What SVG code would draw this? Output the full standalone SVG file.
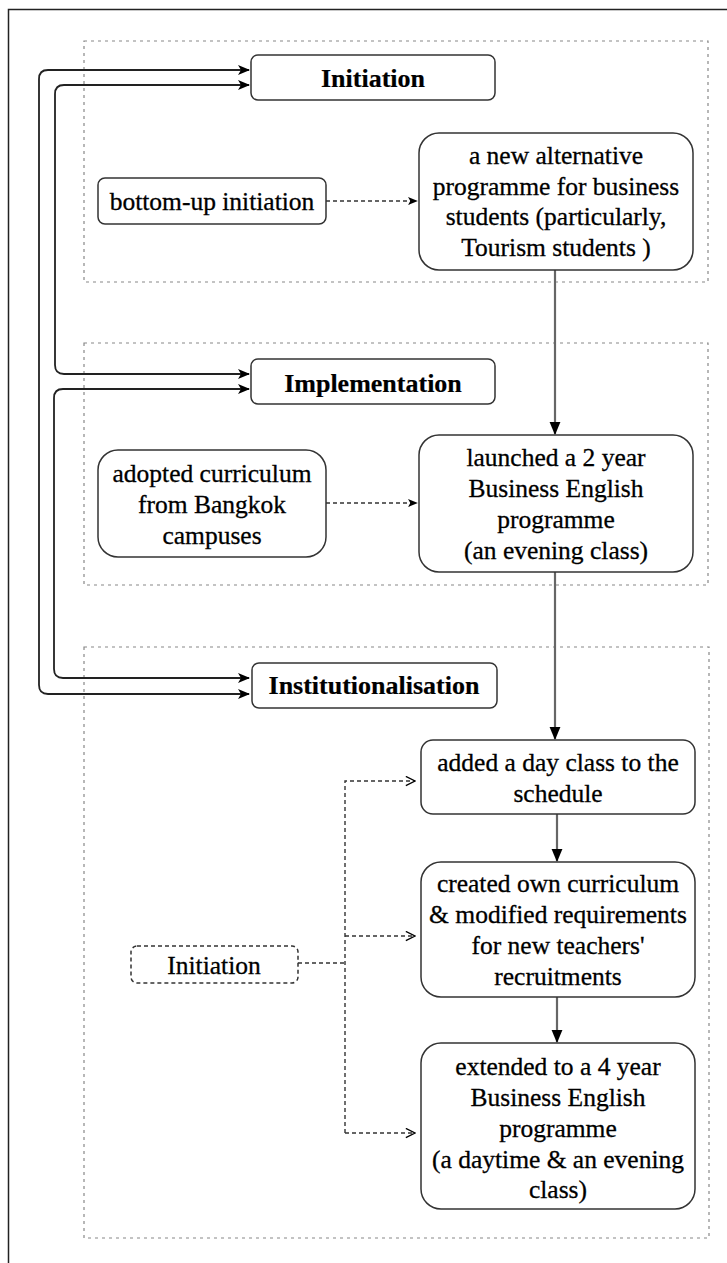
<svg xmlns="http://www.w3.org/2000/svg" width="727" height="1263" viewBox="0 0 727 1263">
  <defs>
    <marker id="arrow" viewBox="0 0 12 12" refX="11" refY="6" markerWidth="12" markerHeight="12" markerUnits="userSpaceOnUse" orient="auto-start-reverse">
      <path d="M0,1 L12,6 L0,11 L3,6 Z" fill="#000"/>
    </marker>
    <marker id="arrowSmall" viewBox="0 0 12 12" refX="11" refY="6" markerWidth="10" markerHeight="10" markerUnits="userSpaceOnUse" orient="auto">
      <path d="M0,1 L12,6 L0,11 L3,6 Z" fill="#000"/>
    </marker>
    <marker id="arrowDown" viewBox="0 0 12 12" refX="11" refY="6" markerWidth="13" markerHeight="13" markerUnits="userSpaceOnUse" orient="auto">
      <path d="M0,1 L12,6 L0,11 Z" fill="#000"/>
    </marker>
    <marker id="arrowOpen" viewBox="0 0 12 12" refX="11" refY="6" markerWidth="11" markerHeight="11" markerUnits="userSpaceOnUse" orient="auto">
      <path d="M1,1 L11,6 L1,11" fill="none" stroke="#000" stroke-width="1.5"/>
    </marker>
  </defs>
  <style>
    .frame { fill: none; stroke: #222; stroke-width: 1.5; }
    .group { fill: none; stroke: #888; stroke-width: 1.2; stroke-dasharray: 3 4; }
    .box { fill: #fff; stroke: #333; stroke-width: 1.5; }
    .dbox { fill: #fff; stroke: #333; stroke-width: 1.5; stroke-dasharray: 4 3; }
    text { font-family: "Liberation Serif", "Times New Roman", serif; font-size: 25.5px; fill: #000; stroke: #000; stroke-width: 0.3; text-anchor: middle; }
    .title { font-weight: bold; font-size: 26px; stroke-width: 0.2; }
    .loop { fill: none; stroke: #222; stroke-width: 1.8; marker-start: url(#arrow); marker-end: url(#arrow); }
    .flow { fill: none; stroke: #666; stroke-width: 2.2; marker-end: url(#arrowDown); }
    .dash { fill: none; stroke: #333; stroke-width: 1.4; stroke-dasharray: 4 3; }
  </style>

  <rect class="frame" x="8.5" y="9.5" width="740" height="1270"/>

  <!-- phase groups -->
  <g id="group-initiation"><rect class="group" x="84" y="41" width="624" height="241"/></g>
  <g id="group-implementation"><rect class="group" x="84" y="343" width="624" height="242"/></g>
  <g id="group-institutionalisation"><rect class="group" x="84" y="647" width="625" height="591"/></g>

  <!-- connectors -->
  <g id="connectors">
    <!-- feedback loops on the left, arrowed at both ends -->
    <path class="loop" d="M249,694 L48,694 Q39,694 39,685 L39,79 Q39,70 48,70 L249,70"/>
    <path class="loop" d="M249,374 L64,374 Q55,374 55,365 L55,94 Q55,85 64,85 L249,85"/>
    <path class="loop" d="M249,678 L63,678 Q54,678 54,669 L54,398 Q54,389 63,389 L249,389"/>
    <!-- main flow -->
    <path class="flow" d="M555,270 L555,434"/>
    <path class="flow" d="M555,572 L555,739"/>
    <path class="flow" d="M557,814 L557,861"/>
    <path class="flow" d="M557,997 L557,1042"/>
    <!-- influences -->
    <path class="dash" marker-end="url(#arrowSmall)" d="M326,201 L417,201"/>
    <path class="dash" marker-end="url(#arrowSmall)" d="M326,503 L417,503"/>
    <path class="dash" d="M298,963 L345,963"/>
    <path class="dash" marker-end="url(#arrowOpen)" d="M345,1133 L345,781 L415,781"/>
    <path class="dash" marker-end="url(#arrowOpen)" d="M345,936 L415,936"/>
    <path class="dash" marker-end="url(#arrowOpen)" d="M345,1133 L415,1133"/>
  </g>

  <!-- stage headings -->
  <g id="node-initiation">
    <rect class="box" x="251" y="55" width="244" height="45" rx="7"/>
    <text class="title" x="373" y="87">Initiation</text>
  </g>
  <g id="node-implementation">
    <rect class="box" x="251" y="359" width="244" height="45" rx="7"/>
    <text class="title" x="373" y="392">Implementation</text>
  </g>
  <g id="node-institutionalisation">
    <rect class="box" x="252" y="663" width="245" height="45" rx="7"/>
    <text class="title" x="374" y="694">Institutionalisation</text>
  </g>

  <!-- initiation stage -->
  <g id="node-bottom-up">
    <rect class="box" x="98" y="178" width="228" height="46" rx="7"/>
    <text x="212" y="210">bottom-up initiation</text>
  </g>
  <g id="node-new-programme">
    <rect class="box" x="419" y="133" width="274" height="137" rx="20"/>
    <text x="556" y="164">a new alternative</text>
    <text x="556" y="194.5">programme for business</text>
    <text x="556" y="225">students (particularly,</text>
    <text x="556" y="256">Tourism students )</text>
  </g>

  <!-- implementation stage -->
  <g id="node-adopted">
    <rect class="box" x="98" y="450" width="228" height="107" rx="20"/>
    <text x="212" y="482">adopted curriculum</text>
    <text x="212" y="513">from Bangkok</text>
    <text x="212" y="544">campuses</text>
  </g>
  <g id="node-launched">
    <rect class="box" x="419" y="435" width="274" height="137" rx="20"/>
    <text x="556" y="466">launched a 2 year</text>
    <text x="556" y="497">Business English</text>
    <text x="556" y="528">programme</text>
    <text x="556" y="558.5">(an evening class)</text>
  </g>

  <!-- institutionalisation stage -->
  <g id="node-day-class">
    <rect class="box" x="421" y="740" width="274" height="74" rx="12"/>
    <text x="558" y="771">added a day class to the</text>
    <text x="558" y="802">schedule</text>
  </g>
  <g id="node-own-curriculum">
    <rect class="box" x="421" y="862" width="274" height="135" rx="20"/>
    <text x="558" y="892">created own curriculum</text>
    <text x="558" y="923">&amp; modified requirements</text>
    <text x="558" y="954">for new teachers'</text>
    <text x="558" y="985">recruitments</text>
  </g>
  <g id="node-extended">
    <rect class="box" x="421" y="1043" width="274" height="166" rx="20"/>
    <text x="558" y="1075">extended to a 4 year</text>
    <text x="558" y="1106">Business English</text>
    <text x="558" y="1137">programme</text>
    <text x="558" y="1168">(a daytime &amp; an evening</text>
    <text x="558" y="1198">class)</text>
  </g>
  <g id="node-initiation-ref">
    <rect class="dbox" x="131" y="946" width="167" height="37" rx="6"/>
    <text x="214" y="974">Initiation</text>
  </g>
</svg>
